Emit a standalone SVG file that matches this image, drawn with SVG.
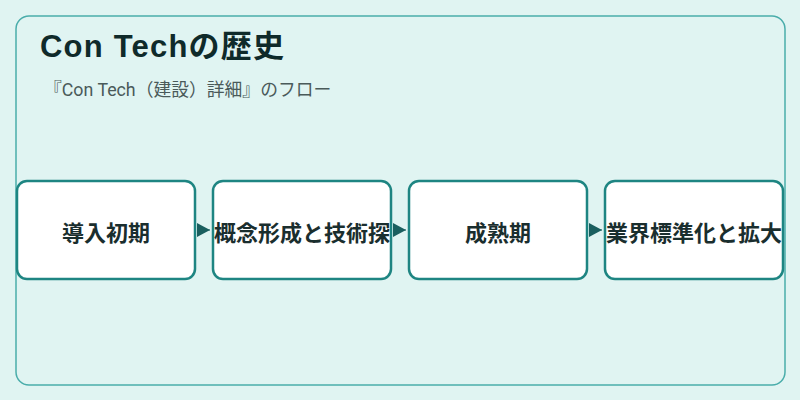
<svg xmlns="http://www.w3.org/2000/svg" width="800" height="400" viewBox="0 0 800 400">
<style>
.node rect{fill:#ffffff;stroke:#1e8582;stroke-width:2.5}
.node text{font-family:"Noto Sans CJK JP","Liberation Sans",sans-serif;font-size:22px;font-weight:bold;fill:#1a2e2e;text-anchor:middle;dominant-baseline:central}
.title{font-family:"Liberation Sans","Noto Sans CJK JP",sans-serif;font-size:31px;font-weight:bold;letter-spacing:1.2px;fill:#0f2a2a}
.sub{font-family:"Roboto","Noto Sans CJK JP",sans-serif;font-size:17.8px;fill:#4a5a5a}
.conn{fill:none;stroke:#1a5f5f;stroke-width:1}
</style>
<defs>
<marker id="ah" viewBox="0 0 13 14" refX="13" refY="7" markerWidth="13" markerHeight="14" markerUnits="userSpaceOnUse" orient="auto">
<path d="M0,0 L13,7 L0,14 z" fill="#1a5f5f"/>
</marker>
</defs>
<rect x="0" y="0" width="800" height="400" fill="#e0f4f2"/>
<rect x="16" y="16" width="769" height="369" rx="13" fill="#e0f4f2" stroke="#4aadab" stroke-width="1.5"/>
<text class="title" x="40" y="57">Con Techの歴史</text>
<text class="sub" x="44" y="96">『Con Tech（建設）詳細』のフロー</text>
<g id="connectors">
<path class="conn" d="M197,230 L210,230" marker-end="url(#ah)"/>
<path class="conn" d="M393,230 L406,230" marker-end="url(#ah)"/>
<path class="conn" d="M589,230 L602,230" marker-end="url(#ah)"/>
</g>
<g id="n1" class="node"><rect x="17" y="181" width="178" height="98" rx="10"/><text x="106" y="231">導入初期</text></g>
<g id="n2" class="node"><rect x="213" y="181" width="178" height="98" rx="10"/><text x="302" y="231">概念形成と技術探</text></g>
<g id="n3" class="node"><rect x="409" y="181" width="178" height="98" rx="10"/><text x="498" y="231">成熟期</text></g>
<g id="n4" class="node"><rect x="605" y="181" width="178" height="98" rx="10"/><text x="694" y="231">業界標準化と拡大</text></g>
</svg>
